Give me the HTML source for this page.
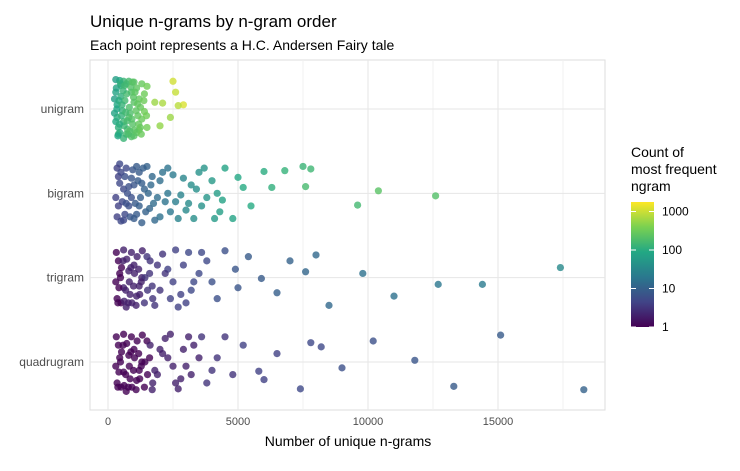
<!DOCTYPE html>
<html><head><meta charset="utf-8"><style>
body{margin:0;background:#fff;font-family:"Liberation Sans",sans-serif}
</style></head><body>
<svg id="c" width="740" height="466" xmlns="http://www.w3.org/2000/svg">
<text x="90" y="27" font-size="17" fill="#000">Unique n-grams by n-gram order</text>
<text x="90" y="50" font-size="14" fill="#000">Each point represents a H.C. Andersen Fairy tale</text>
<g id="grid"></g><g id="pts"></g>
<text x="348" y="446" font-size="14" text-anchor="middle">Number of unique n-grams</text>
<text x="631" y="157" font-size="14">Count of</text>
<text x="631" y="174" font-size="14">most frequent</text>
<text x="631" y="191" font-size="14">ngram</text>
<defs><linearGradient id="vir" x1="0" y1="1" x2="0" y2="0">
<stop offset="0" stop-color="#440154"/><stop offset="0.2" stop-color="#414487"/><stop offset="0.4" stop-color="#2a788e"/><stop offset="0.6" stop-color="#22a884"/><stop offset="0.8" stop-color="#7ad151"/><stop offset="1" stop-color="#fde725"/></linearGradient></defs>
<rect x="631" y="202" width="23" height="125" fill="url(#vir)"/>
<g id="leg"></g>
</svg>
<script>
const categories=["unigram","bigram","trigram","quadrugram"];
const xTicks=[0,5000,10000,15000];
const legendTicks=[1,10,100,1000];
const unigram=[[300,-.35,60],[450,-.34,80],[600,-.33,120],[800,-.33,150],[1000,-.32,200],[1300,-.3,250],[2500,-.33,900],[2600,-.2,800],[1800,-.08,500],[2100,-.07,600],[2900,-.05,1000],[2700,-.04,700],[2400,.1,500],[2000,.2,450],[1500,.22,300],[1200,.25,250],[400,.3,120],[700,.3,150],[1100,.28,220],[300,-.2,70],[500,-.15,100],[900,-.2,180],[1400,-.18,280],[350,-.05,80],[650,-.1,140],[1000,-.08,200],[1250,-.02,250],[250,.05,70],[550,.02,110],[850,.05,170],[1150,.08,230],[300,.15,80],[600,.15,130],[950,.18,190],[1300,.12,260],[400,.22,100],[750,.24,160],[500,-.28,100],[1100,-.25,220],[700,-.3,140],[350,.1,90],[800,.1,170],[1500,-.27,300],[1400,.03,290],[450,.28,100],[1000,.32,200],[250,-.12,60],[1200,-.12,240],[600,.35,120],[900,.33,180],
[320,-.25,70],[420,-.1,90],[520,.08,110],[620,.2,130],[720,-.18,150],[820,-.02,170],[920,.12,190],[1020,.25,210],[380,.32,80],[480,-.3,100],[580,-.22,120],[680,.04,140],[780,.3,160],[880,-.26,180],[980,-.14,200],[1080,.02,220],[1180,.18,240],[1280,.3,260],[1380,-.1,280],[1480,.08,300],[340,.0,75],[440,.18,95],[540,-.05,115],[640,-.28,135],[740,.14,155],[840,.26,175],[940,-.32,195],[1040,-.2,215],[1140,-.06,235],[1240,.22,255]];
const bigram=[[7500,-.32,120],[7800,-.29,130],[6000,-.26,90],[6800,-.27,110],[7600,-.08,150],[10400,-.03,200],[6300,-.07,100],[5000,-.19,80],[5200,-.07,85],[4500,-.3,70],[12600,.03,180],[9600,.14,140],[4300,.22,60],[4400,.08,65],[3500,-.25,40],[3200,-.1,35],[3800,.05,45],[3000,.2,30],[2700,.3,25],[2300,-.3,16],[2000,-.15,14],[2200,.1,16],[1800,.32,12],[1500,-.32,10],[1400,-.05,10],[1600,.18,11],[1200,-.25,8],[1000,-.1,7],[900,.05,6],[1100,.25,8],[700,-.3,5],[600,-.05,5],[800,.15,6],[500,.33,5],[400,-.2,4],[300,.05,4],[350,.28,4],[450,-.35,5],[1300,.35,9],[2500,-.22,20],[2800,.02,25],[3300,.3,35],[4000,-.15,50],[4800,.3,70],[5500,.15,85],[3600,.15,40],[1700,-.2,12],[1900,.05,14],[650,.25,5],[2400,.22,18],
[350,-.3,4],[450,-.12,5],[550,.1,5],[650,-.2,6],[750,.0,6],[850,.28,7],[950,-.28,7],[1050,.12,8],[1150,-.15,8],[1250,.05,9],[1350,-.3,9],[1450,.22,10],[1550,.0,11],[1650,-.1,12],[1750,.12,13],[2100,-.25,15],[2600,.1,22],[2900,-.18,28],[3100,.12,32],[3400,-.05,38],[400,.15,4],[500,-.25,5],[600,.32,5],[700,.12,6],[800,-.08,6],[900,-.18,7],[1000,.3,8],[1100,-.32,8],[1200,.15,9],[1300,-.12,9],[2000,.28,15],[2300,.0,17],[3700,-.3,42],[4200,.0,55],[4100,.3,52]];
const trigram=[[17400,-.12,30],[9800,-.05,15],[7000,-.2,10],[8000,-.27,12],[7600,-.07,11],[14400,.08,20],[12700,.08,18],[11000,.22,15],[8500,.33,12],[6500,.18,9],[5900,.01,8],[4900,-.1,7],[5000,.12,7],[4500,-.32,6],[3800,-.2,5],[3300,.05,5],[3000,.3,4],[2600,-.33,4],[2300,-.1,4],[2000,.15,3],[1800,.33,3],[1500,-.25,3],[1300,0,2],[1100,.22,2],[900,-.3,2],[800,-.08,2],[600,.12,2],[500,.3,1],[400,-.2,1],[300,.05,1],[350,.25,1],[700,.35,2],[1000,-.15,2],[1200,.1,2],[1600,-.05,3],[2800,.2,4],[3500,-.05,5],[4200,.25,6],[2100,-.28,3],[600,-.33,2],[1400,.3,3],[2500,.05,4],[4000,.05,6],[5400,-.25,8],[3100,-.3,5],[1700,.1,3],[450,-.05,1],[1900,-.15,3],[850,.2,2],[2700,.35,4],
[320,-.3,1],[420,.12,1],[520,-.12,1],[620,.28,2],[720,-.22,2],[820,.05,2],[920,.3,2],[1020,-.05,2],[1120,-.25,2],[1220,.2,2],[1320,-.32,2],[1420,.0,3],[1520,.15,3],[1620,-.2,3],[1720,.25,3],[2200,-.05,3],[2400,.25,4],[2900,-.15,4],[3200,.15,5],[3600,-.3,5],[380,.3,1],[480,.0,1],[580,-.2,2],[680,.15,2],[780,.3,2],[880,-.12,2],[980,.1,2],[1080,.33,2],[1180,-.1,2],[1280,.05,2]];
const quadrugram=[[15100,-.32,8],[10200,-.25,6],[7800,-.23,5],[8200,-.18,5],[11800,-.02,7],[9000,.07,6],[13300,.29,8],[18300,.33,10],[7400,.32,5],[6000,.21,4],[5800,.11,4],[4500,-.3,3],[4200,-.05,3],[3800,.25,3],[3300,-.2,2],[3000,.05,2],[2700,.32,2],[2400,-.33,2],[2100,-.1,2],[1900,.15,2],[1700,.33,2],[1500,-.25,1],[1300,0,1],[1100,.22,1],[900,-.3,1],[800,-.08,1],[600,.12,1],[500,.3,1],[400,-.2,1],[300,.05,1],[350,.25,1],[700,.35,1],[1000,-.15,1],[1200,.1,1],[1600,-.05,1],[2800,.2,2],[3500,-.05,2],[4800,.15,3],[2200,-.28,2],[600,-.33,1],[1400,.3,1],[2500,.05,2],[4000,.1,3],[5200,-.2,4],[3100,-.3,2],[1800,.1,2],[450,-.05,1],[2000,-.15,2],[850,.2,1],[6500,-.1,4],
[320,-.3,1],[420,.12,1],[520,-.12,1],[620,.28,1],[720,-.22,1],[820,.05,1],[920,.3,1],[1020,-.05,1],[1120,-.25,1],[1220,.2,1],[1320,-.32,1],[1420,.0,1],[1520,.15,1],[1620,-.2,2],[1720,.25,2],[2300,-.05,2],[2600,.25,2],[2900,-.15,2],[3200,.15,2],[3600,-.3,3],[380,.3,1],[480,.0,1],[580,-.2,1],[680,.15,1],[780,.3,1],[880,-.12,1],[980,.1,1],[1080,.33,1],[1180,-.1,1],[1280,.05,1]];
const series=[unigram,bigram,trigram,quadrugram];
const NS="http://www.w3.org/2000/svg";
const L=90,R=605,T=60,B=410;
const xs=v=>108+v*0.026;
const ys=i=>109+i*84.33;
const cs=v=>327-Math.log10(v)*38.5;
function mk(t,a,p){const e=document.createElementNS(NS,t);for(const k in a)e.setAttribute(k,a[k]);p.appendChild(e);return e;}
const g=document.getElementById('grid');
mk('rect',{x:L,y:T,width:R-L,height:B-T,fill:'none',stroke:'#ddd'},g);
[2500,7500,12500,17500].forEach(v=>mk('line',{x1:xs(v),x2:xs(v),y1:T,y2:B,stroke:'#f0f0f0'},g));
xTicks.forEach(v=>{const l=mk('line',{x1:xs(v),x2:xs(v),y1:T,y2:B,stroke:'#e6e6e6'},g);

const t=mk('text',{x:xs(v),y:425,'font-size':11,fill:'#4d4d4d','text-anchor':'middle'},g);t.textContent=v;
});
categories.forEach((c,i)=>{mk('line',{x1:L,x2:R,y1:ys(i),y2:ys(i),stroke:'#e6e6e6'},g);
const t=mk('text',{x:84,y:ys(i)+4,'font-size':12,fill:'#4d4d4d','text-anchor':'end'},g);t.textContent=c;
});
const stops=[[68,1,84],[65,68,135],[42,120,142],[34,168,132],[122,209,81],[253,231,37]];
function col(v){let f=Math.min(1,Math.log10(v)/Math.log10(1500))*5;const i=Math.min(4,Math.floor(f)),r=f-i;
const a=stops[i],b=stops[i+1];return 'rgb('+a.map((x,k)=>Math.round(x+(b[k]-x)*r)).join(',')+')';}
const pg=document.getElementById('pts');
series.forEach((s,i)=>s.forEach(p=>{const e=mk('circle',{cx:xs(p[0]),cy:ys(i)+p[1]*84,r:3.6,fill:col(p[2]),'fill-opacity':0.8},pg);
}));
const lg=document.getElementById('leg');
legendTicks.forEach(v=>{mk('line',{x1:631,x2:636,y1:cs(v),y2:cs(v),stroke:'#fff'},lg);mk('line',{x1:649,x2:654,y1:cs(v),y2:cs(v),stroke:'#fff'},lg);
const t=mk('text',{x:662,y:cs(v)+4,'font-size':12,fill:'#000'},lg);t.textContent=v;
});
</script>
</body></html>
